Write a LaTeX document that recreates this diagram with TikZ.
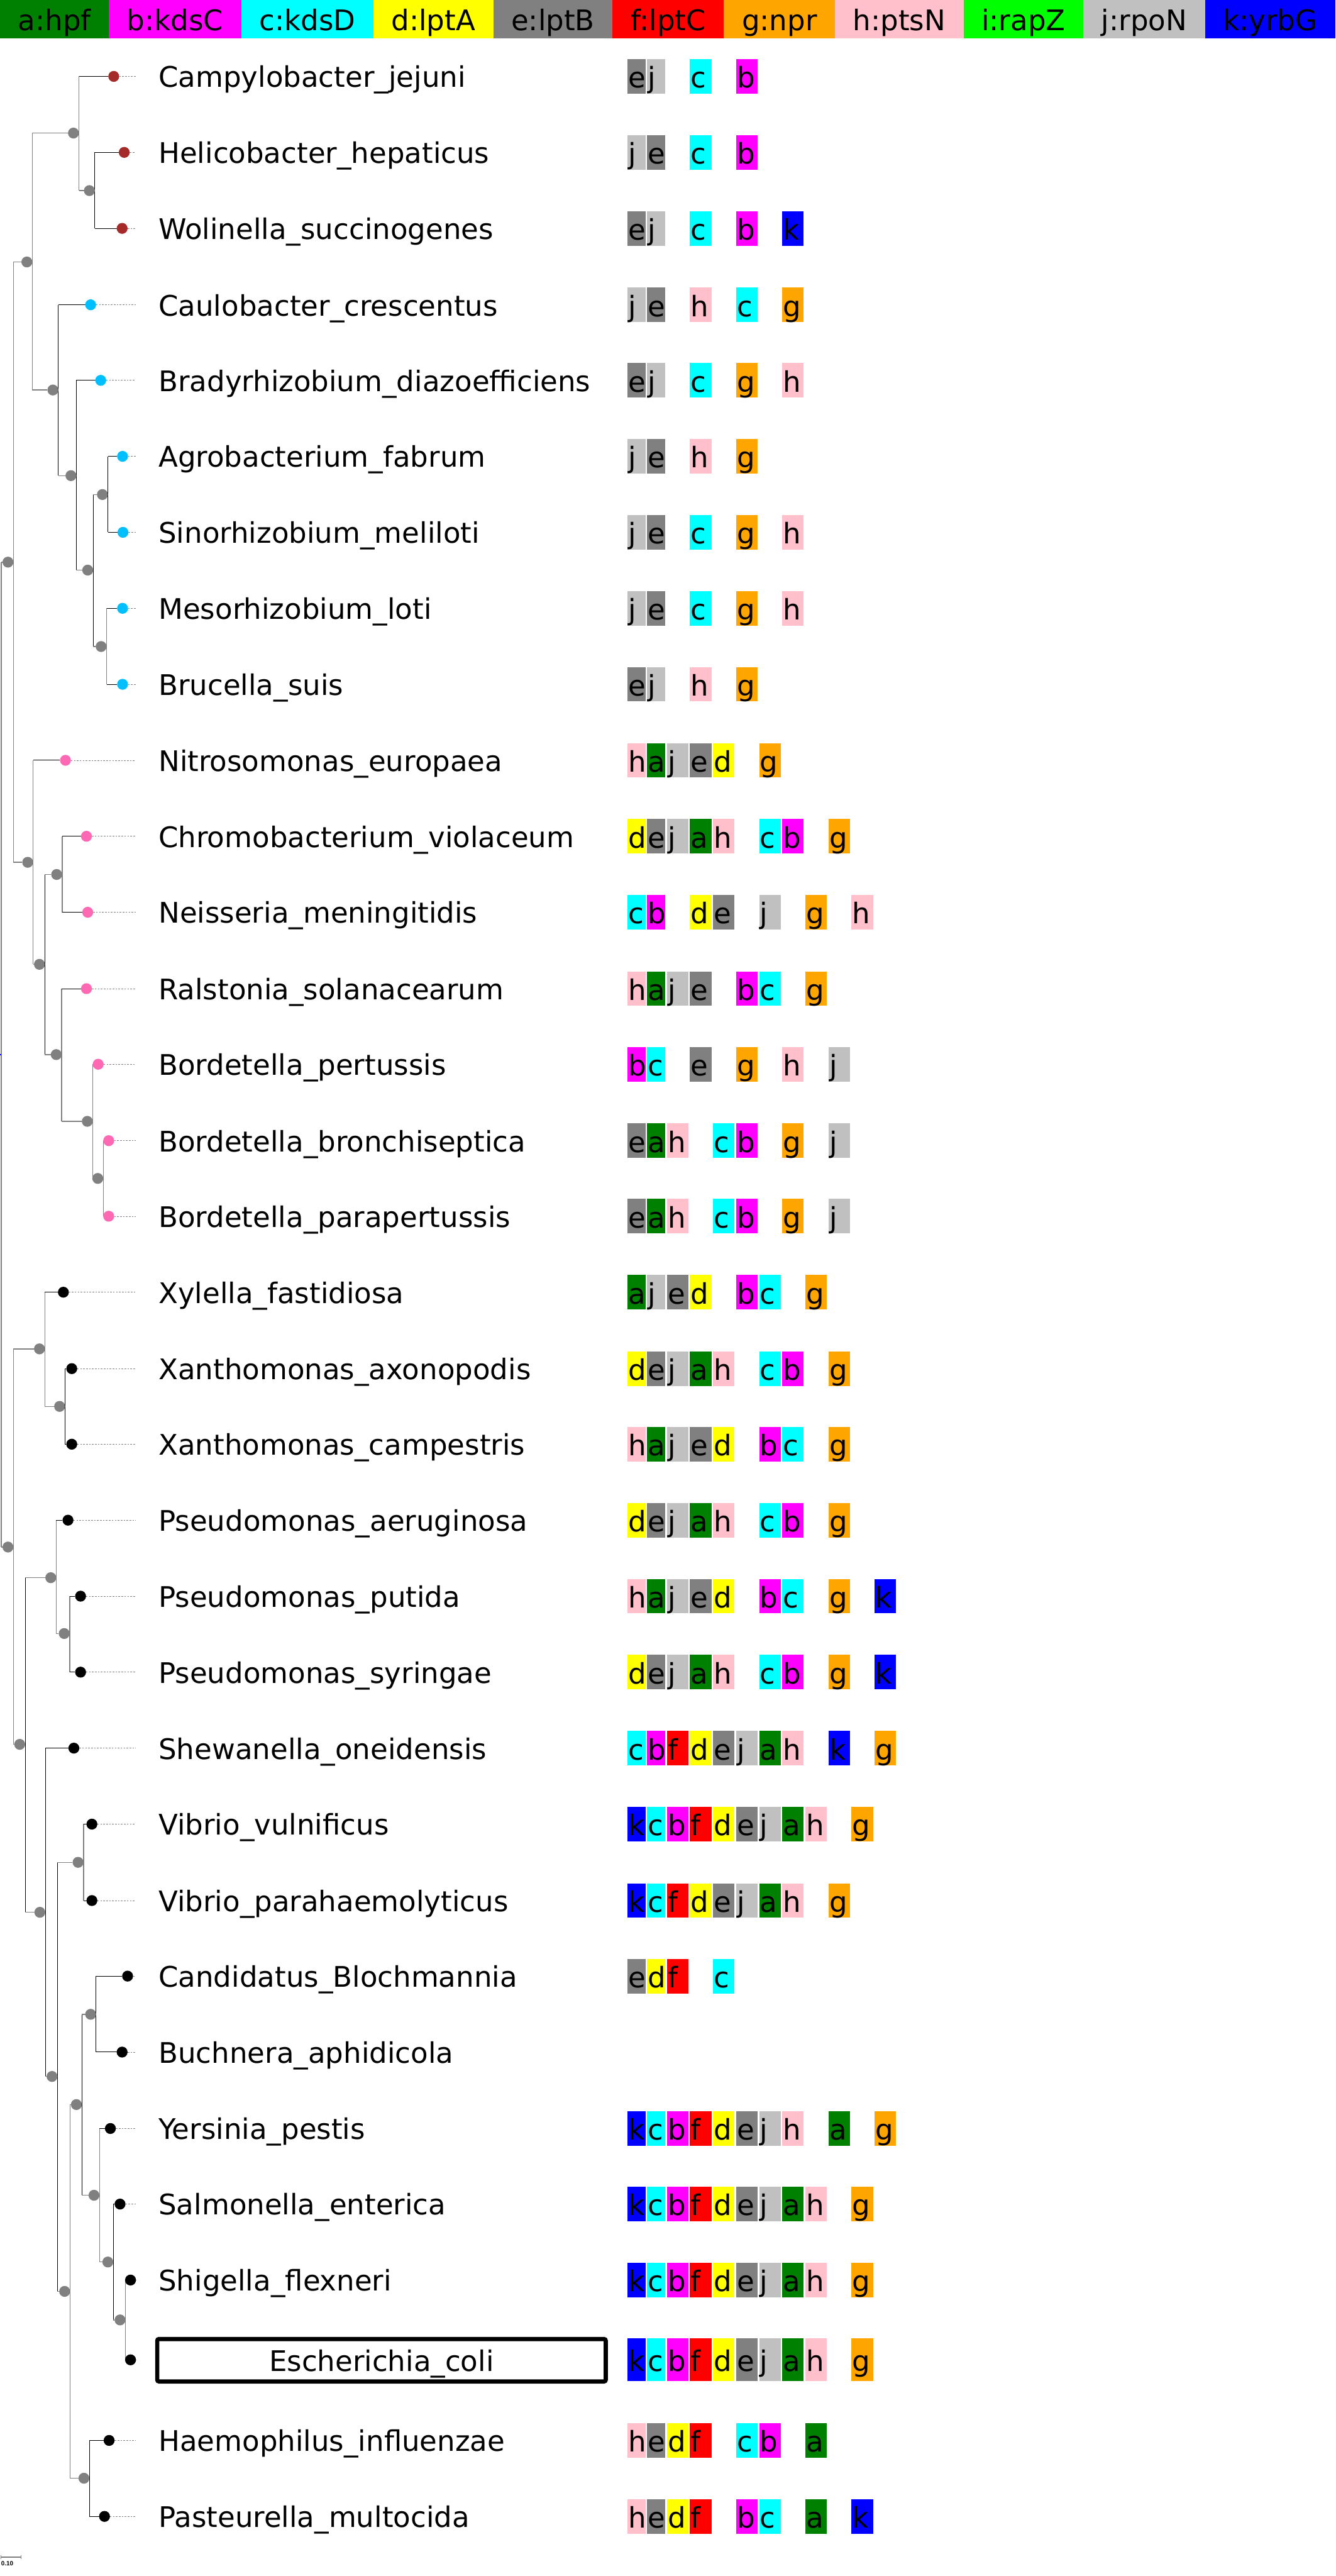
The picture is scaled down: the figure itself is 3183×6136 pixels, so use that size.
\documentclass[tikz,border=0pt]{standalone}
\usepackage{fontspec}
\setmainfont{DejaVu Sans}
\newfontfamily\scalebarfont{Liberation Sans}
\usepackage{tikz}
\usetikzlibrary{positioning, arrows.meta, backgrounds}

\definecolor{genea}{HTML}{008000}
\definecolor{geneb}{HTML}{FF00FF}
\definecolor{genec}{HTML}{00FFFF}
\definecolor{gened}{HTML}{FFFF00}
\definecolor{genee}{HTML}{808080}
\definecolor{genef}{HTML}{FF0000}
\definecolor{geneg}{HTML}{FFA500}
\definecolor{geneh}{HTML}{FFC0CB}
\definecolor{genei}{HTML}{00FF00}
\definecolor{genej}{HTML}{C0C0C0}
\definecolor{genek}{HTML}{0000FF}
\definecolor{cladeeps}{HTML}{A52A2A}
\definecolor{cladealpha}{HTML}{00BFFF}
\definecolor{cladebeta}{HTML}{FF69B4}
\definecolor{cladegamma}{HTML}{000000}
\definecolor{treegray}{HTML}{808080}

\newcommand{\treefont}{\fontsize{19.2pt}{23pt}\selectfont}

\tikzset{
    legend/.style={
        fill=gene#1,
        inner xsep=0.4285cm,
        inner ysep=0pt,
        outer sep=0pt,
        minimum height=0.92cm,
        text height=0.52cm,
        text depth=0pt,
        font=\treefont
    },
    gene/.style={
        fill=gene#1,
        anchor=west,
        inner xsep=0.02cm,
        inner ysep=0pt,
        outer sep=0pt,
        text height=0.55cm,
        text depth=0pt,
        align=left,
        font=\treefont
    },
    taxon/.style={
        anchor=west,
        inner sep=0pt,
        outer sep=0pt,
        text height=0.52cm,
        text depth=0pt,
        font=\treefont
    },
    refbox/.style={
        draw=black,
        line width=0.1cm,
        rounded corners=0.04cm,
        minimum width=10.68cm,
        minimum height=1.01cm,
        inner sep=0pt,
        text height=0.52cm,
        text depth=0pt,
        font=\treefont
    },
    leafdot/.style={
        circle,
        fill=#1,
        minimum size=0.26cm,
        inner sep=0pt,
        outer sep=0pt
    },
    innerdot/.style={
        circle,
        fill=treegray,
        minimum size=0.26cm,
        inner sep=0pt,
        outer sep=0pt
    },
    tgray/.style={draw=treegray, line width=0.6pt},
    tblack/.style={draw=black, line width=0.4pt},
    leafdash/.style={draw=treegray, line width=0.3pt, dash pattern=on 1.1pt off 0.9pt},
    scalebar/.style={draw=treegray, line width=0.45pt, {Bar[width=0.1cm]}-{Bar[width=0.1cm]}}
}

\begin{document}
\begin{tikzpicture}[x=0.01cm, y=-0.01cm]
    \useasboundingbox (0,0) rectangle (3183,6136);

    % Gene key
    \node[legend=a, anchor=north west] (key-a) at (0,0) {a:hpf};
    \node[legend=b, right=0pt of key-a] (key-b) {b:kdsC};
    \node[legend=c, right=0pt of key-b] (key-c) {c:kdsD};
    \node[legend=d, right=0pt of key-c] (key-d) {d:lptA};
    \node[legend=e, right=0pt of key-d] (key-e) {e:lptB};
    \node[legend=f, right=0pt of key-e] (key-f) {f:lptC};
    \node[legend=g, right=0pt of key-f] (key-g) {g:npr};
    \node[legend=h, right=0pt of key-g] (key-h) {h:ptsN};
    \node[legend=i, right=0pt of key-h] (key-i) {i:rapZ};
    \node[legend=j, right=0pt of key-i] (key-j) {j:rpoN};
    \node[legend=k, right=0pt of key-j] (key-k) {k:yrbG};

    % Leaves
    \foreach \n/\y/\t/\col in {
        Campy/182/258/cladeeps, Helico/363/283/cladeeps, Wolin/544/278/cladeeps,
        Caulo/726/203/cladealpha, Brady/906/227/cladealpha, Agro/1087/279/cladealpha,
        Sino/1268/280/cladealpha, Meso/1449/279/cladealpha, Bruc/1630/279/cladealpha,
        Nitro/1811/143/cladebeta, Chromo/1992/193/cladebeta, Neis/2173/196/cladebeta,
        Ralst/2355/193/cladebeta, Bpert/2535/221/cladebeta, Bbron/2717/246/cladebeta,
        Bpara/2897/246/cladebeta,
        Xyl/3078/138/cladegamma, Xaxo/3260/158/cladegamma, Xcamp/3440/158/cladegamma,
        Paer/3621/149/cladegamma, Pput/3802/179/cladegamma, Psyr/3983/179/cladegamma,
        Shew/4164/163/cladegamma, Vvul/4345/206/cladegamma, Vpara/4527/206/cladegamma,
        Cand/4707/291/cladegamma, Buch/4888/278/cladegamma, Yers/5070/250/cladegamma,
        Salm/5250/273/cladegamma, Shig/5431/298/cladegamma, Ecoli/5621/298/cladegamma,
        Haem/5813/247/cladegamma, Past/5994/236/cladegamma}
        \node[leafdot=\col] (\n) at (\t+13,\y) {};

    % Inner nodes
    \foreach \n/\x/\y in {
        nTop/32/1339, nEA/77/624, nEps/188/317, nHW/226/454, nAlpha/139/929,
        nA2/182/1133, nA3/222/1358, nA4/257/1178, nA5/254/1540,
        nBeta/79/2054, nB2/107/2297, nB3/148/2083, nRal/147/2512, nBP/221/2671, nBB/246/2807,
        nGam/32/3685, nXan/107/3213, nXX/155/3350, nG1/60/4155, nPs/134/3758, nPP/166/3891,
        nG2/108/4555, nG3/137/4946, nVib/199/4436, nG4/167/5458, nEnt/195/5013,
        nCB/229/4798, nYS/237/5229, nSS/270/5388, nSE/299/5526, nPas/213/5903}
        \node[innerdot] (\n) at (\x-13,\y) {};

    \coordinate (root) at (3,2512);
    \coordinate (rootstub) at (0,2512);
    \coordinate (dashend) at (323,0);
    \coordinate (labelx) at (378,0);

    \begin{scope}[on background layer]
        \draw[tgray] (root |- nTop) -- (root |- nGam);
        \draw[tgray] (root |- nTop) -- (nTop);
        \draw[tgray] (root |- nGam) -- (nGam);
        \draw[draw=blue, line width=0.6pt] (rootstub) -- (root);

        \foreach \p/\a/\b/\vc in {
            nTop/nEA/nBeta/tgray, nEA/nEps/nAlpha/tgray, nEps/Campy/nHW/tgray,
            nHW/Helico/Wolin/tblack, nAlpha/Caulo/nA2/tblack, nA2/Brady/nA3/tblack,
            nA3/nA4/nA5/tblack, nA4/Agro/Sino/tblack, nA5/Meso/Bruc/tgray,
            nBeta/Nitro/nB2/tgray, nB2/nB3/nRal/tblack, nB3/Chromo/Neis/tgray,
            nRal/Ralst/nBP/tgray, nBP/Bpert/nBB/tgray, nBB/Bbron/Bpara/tgray,
            nGam/nXan/nG1/tgray, nXan/Xyl/nXX/tgray, nXX/Xaxo/Xcamp/tblack,
            nG1/nPs/nG2/tblack, nPs/Paer/nPP/tgray, nPP/Pput/Psyr/tgray,
            nG2/Shew/nG3/tblack, nG3/nVib/nG4/tblack, nVib/Vvul/Vpara/tgray,
            nG4/nEnt/nPas/tgray, nEnt/nCB/nYS/tblack, nCB/Cand/Buch/tblack,
            nYS/Yers/nSS/tgray, nSS/Salm/nSE/tblack, nSE/Shig/Ecoli/tgray,
            nPas/Haem/Past/tblack}
            \draw[\vc] (\p.east |- \a) -- (\p.east |- \b);

        \foreach \p/\c in {
            nTop/nEA, nTop/nBeta, nEA/nEps, nEA/nAlpha, nEps/nHW, nAlpha/nA2, nA2/nA3,
            nA3/nA4, nA3/nA5, nBeta/nB2, nB2/nB3, nB2/nRal, nRal/nBP, nBP/nBB,
            nGam/nXan, nGam/nG1, nXan/nXX, nG1/nPs, nG1/nG2, nPs/nPP, nG2/nG3,
            nG3/nVib, nG3/nG4, nG4/nEnt, nG4/nPas, nEnt/nCB, nEnt/nYS, nYS/nSS, nSS/nSE}
            \draw[tgray] (\p.east |- \c) -- (\c);

        \foreach \p/\c in {
            nEps/Campy, nHW/Helico, nHW/Wolin, nAlpha/Caulo, nA2/Brady, nA4/Agro, nA4/Sino,
            nA5/Meso, nA5/Bruc, nBeta/Nitro, nB3/Chromo, nB3/Neis, nRal/Ralst, nBP/Bpert,
            nBB/Bbron, nBB/Bpara, nXan/Xyl, nXX/Xaxo, nXX/Xcamp, nPs/Paer, nPP/Pput,
            nPP/Psyr, nG2/Shew, nVib/Vvul, nVib/Vpara, nCB/Cand, nCB/Buch, nYS/Yers,
            nSS/Salm, nSE/Shig, nSE/Ecoli, nPas/Haem, nPas/Past} {
            \draw[tblack] (\p.east |- \c) -- (\c.west);
            \draw[leafdash] (\c.east) -- (\c.east -| dashend);
        }
    \end{scope}

    % Species names
    \foreach \n/\txt in {
        Campy/Campylobacter\_jejuni, Helico/Helicobacter\_hepaticus,
        Wolin/Wolinella\_succinogenes, Caulo/Caulobacter\_crescentus,
        Brady/Bradyrhizobium\_diazoefficiens, Agro/Agrobacterium\_fabrum,
        Sino/Sinorhizobium\_meliloti, Meso/Mesorhizobium\_loti, Bruc/Brucella\_suis,
        Nitro/Nitrosomonas\_europaea, Chromo/Chromobacterium\_violaceum,
        Neis/Neisseria\_meningitidis, Ralst/Ralstonia\_solanacearum,
        Bpert/Bordetella\_pertussis, Bbron/Bordetella\_bronchiseptica,
        Bpara/Bordetella\_parapertussis, Xyl/Xylella\_fastidiosa,
        Xaxo/Xanthomonas\_axonopodis, Xcamp/Xanthomonas\_campestris,
        Paer/Pseudomonas\_aeruginosa, Pput/Pseudomonas\_putida,
        Psyr/Pseudomonas\_syringae, Shew/Shewanella\_oneidensis,
        Vvul/Vibrio\_vulnificus, Vpara/Vibrio\_parahaemolyticus,
        Cand/Candidatus\_Blochmannia, Buch/Buchnera\_aphidicola,
        Yers/Yersinia\_pestis, Salm/Salmonella\_enterica, Shig/Shigella\_flexneri,
        Haem/Haemophilus\_influenzae, Past/Pasteurella\_multocida}
        \node[taxon] (s\n) at (labelx |- \n) {\txt};
    \node[refbox] (sEcoli) at (909,5622) {Escherichia\_coli};

    % Gene boxes
    \foreach \n/\y/\genes in {
        Campy/182/{0/e,1/j,3/c,5/b},
        Helico/363/{0/j,1/e,3/c,5/b},
        Wolin/544/{0/e,1/j,3/c,5/b,7/k},
        Caulo/726/{0/j,1/e,3/h,5/c,7/g},
        Brady/906/{0/e,1/j,3/c,5/g,7/h},
        Agro/1087/{0/j,1/e,3/h,5/g},
        Sino/1268/{0/j,1/e,3/c,5/g,7/h},
        Meso/1449/{0/j,1/e,3/c,5/g,7/h},
        Bruc/1630/{0/e,1/j,3/h,5/g},
        Nitro/1811/{0/h,1/a,2/j,3/e,4/d,6/g},
        Chromo/1992/{0/d,1/e,2/j,3/a,4/h,6/c,7/b,9/g},
        Neis/2173/{0/c,1/b,3/d,4/e,6/j,8/g,10/h},
        Ralst/2355/{0/h,1/a,2/j,3/e,5/b,6/c,8/g},
        Bpert/2535/{0/b,1/c,3/e,5/g,7/h,9/j},
        Bbron/2717/{0/e,1/a,2/h,4/c,5/b,7/g,9/j},
        Bpara/2897/{0/e,1/a,2/h,4/c,5/b,7/g,9/j},
        Xyl/3078/{0/a,1/j,2/e,3/d,5/b,6/c,8/g},
        Xaxo/3260/{0/d,1/e,2/j,3/a,4/h,6/c,7/b,9/g},
        Xcamp/3440/{0/h,1/a,2/j,3/e,4/d,6/b,7/c,9/g},
        Paer/3621/{0/d,1/e,2/j,3/a,4/h,6/c,7/b,9/g},
        Pput/3802/{0/h,1/a,2/j,3/e,4/d,6/b,7/c,9/g,11/k},
        Psyr/3983/{0/d,1/e,2/j,3/a,4/h,6/c,7/b,9/g,11/k},
        Shew/4164/{0/c,1/b,2/f,3/d,4/e,5/j,6/a,7/h,9/k,11/g},
        Vvul/4345/{0/k,1/c,2/b,3/f,4/d,5/e,6/j,7/a,8/h,10/g},
        Vpara/4527/{0/k,1/c,2/f,3/d,4/e,5/j,6/a,7/h,9/g},
        Cand/4707/{0/e,1/d,2/f,4/c},
        Yers/5070/{0/k,1/c,2/b,3/f,4/d,5/e,6/j,7/h,9/a,11/g},
        Salm/5250/{0/k,1/c,2/b,3/f,4/d,5/e,6/j,7/a,8/h,10/g},
        Shig/5431/{0/k,1/c,2/b,3/f,4/d,5/e,6/j,7/a,8/h,10/g},
        Ecoli/5621/{0/k,1/c,2/b,3/f,4/d,5/e,6/j,7/a,8/h,10/g},
        Haem/5813/{0/h,1/e,2/d,3/f,5/c,6/b,8/a},
        Past/5994/{0/h,1/e,2/d,3/f,5/b,6/c,8/a,10/k}} {
        \foreach \s/\l in \genes {
            \pgfmathsetmacro\gx{(\s<2) ? (1495+47*\s) : (1479+55*\s)}
            \pgfmathsetmacro\gw{(\s<2) ? 0.39 : 0.47}
            \pgfmathsetmacro\gh{(\y==5621) ? 1.02 : 0.82}
            \node[gene=\l, text width=\gw cm, minimum height=\gh cm] (g\n\l) at (\gx,\y) {\l};
        }
    }

    % Scale
    \coordinate (sbL) at (1,6091);
    \coordinate (sbR) at (51,6091);
    \draw[scalebar] (sbL) -- (sbR);
    \node[anchor=base west, inner sep=0pt, font=\scalebarfont\fontsize{4.2pt}{5pt}\selectfont\bfseries] (sblabel) at (2,6111) {0.10};
\end{tikzpicture}
\end{document}
